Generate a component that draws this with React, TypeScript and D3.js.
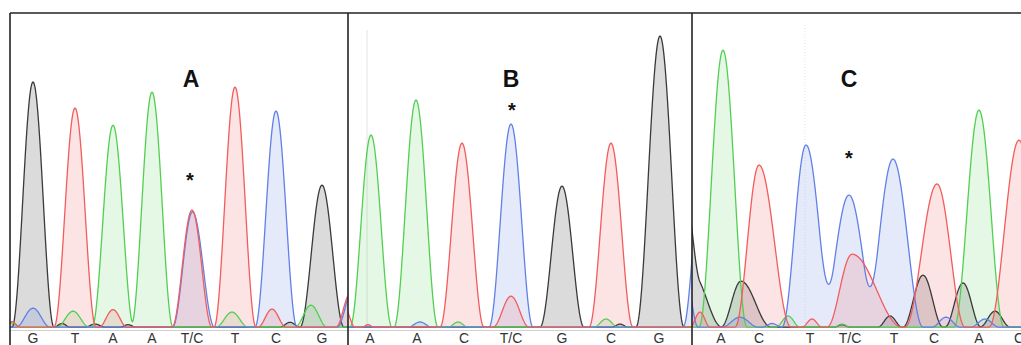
import React, { useEffect, useRef } from "react";
import * as d3 from "d3";

// ---- data: peaks per panel / channel, [scan, height (RFU), half-width left, half-width right] ----
const peaksA_G = [[23, 817, 21, 21], [312, 473, 22, 22], [52, 12, 8, 8], [85, 10, 10, 10], [118, 8, 8, 8], [280, 16, 10, 10]];
const peaksA_T = [[65, 730, 21, 21], [182, 390, 20, 20], [225, 800, 21, 21], [103, 58, 14, 14], [262, 60, 14, 14], [340, 110, 14, 14], [2, 18, 8, 8]];
const peaksA_A = [[103, 673, 21, 21], [142, 783, 21, 21], [63, 53, 16, 16], [222, 50, 16, 16], [301, 73, 16, 16], [2, 14, 8, 8]];
const peaksA_C = [[266, 720, 21, 21], [182.5, 384, 20, 22], [23, 63, 17, 17], [345, 150, 18, 18]];

const peaksB_G = [[214, 470, 22, 22], [312, 970, 24, 24], [272, 10, 8, 8]];
const peaksB_T = [[114, 613, 22, 22], [163, 103, 18, 18], [263, 613, 22, 22], [-3, 60, 10, 10], [20, 8, 6, 6]];
const peaksB_A = [[23, 640, 21, 21], [68, 757, 22, 22], [110, 17, 10, 10], [258, 27, 12, 12]];
const peaksB_C = [[163, 677, 22, 22], [72, 17, 12, 12], [357, 640, 22, 22]];

const peaksC_G = [[-10, 350, 18, 18], [0, 180, 30, 30], [49, 153, 20, 30], [198, 37, 12, 12], [231, 173, 20, 20], [271, 147, 18, 18], [303, 53, 15, 15], [150, 8, 8, 8]];
const peaksC_T = [[67, 540, 24, 32], [160, 243, 25, 50], [245, 477, 32, 28], [327, 623, 30, 30], [8, 50, 10, 10], [120, 27, 10, 10]];
const peaksC_A = [[31, 923, 24, 24], [287, 723, 25, 25], [96, 37, 12, 12], [150, 10, 8, 8]];
const peaksC_C = [[114, 607, 24, 28], [157, 440, 29, 29], [201, 560, 29, 30], [48, 33, 18, 18], [80, 12, 10, 10], [254, 33, 14, 14], [293, 27, 14, 14], [-6, 160, 12, 12]];

// base calls
const basesA = ["G", "T", "A", "A", "T/C", "T", "C", "G"];
const basePosA = [23, 65, 103, 142, 182, 225, 266, 312];
const basesB = ["A", "A", "C", "T/C", "G", "C", "G"];
const basePosB = [22, 69, 116, 163, 214, 263, 311];
const basesC = ["A", "C", "T", "T/C", "T", "C", "A", "C"];
const basePosC = [29, 67, 118, 158, 202, 242, 287, 327];

// panel title + asterisk: [scan, RFU]
const titleA = [181, 803], starA = [180, 510];
const titleB = [163, 803], starB = [164, 743];
const titleC = [157, 803], starC = [157, 583];
// faint guide lines (scan)
const guideB = [19];
const guideC = [113];

const channels = [
  { key: "G", line: "#3a3a3a", fill: "rgba(0,0,0,0.14)" },
  { key: "A", line: "#52cf52", fill: "rgba(80,200,80,0.15)" },
  { key: "C", line: "#6080e6", fill: "rgba(95,125,230,0.16)" },
  { key: "T", line: "#f25c5c", fill: "rgba(240,90,90,0.16)" },
];

const panels = [
  { name: "A", x0: 10, x1: 348, peaks: { G: peaksA_G, T: peaksA_T, A: peaksA_A, C: peaksA_C }, bases: basesA, pos: basePosA, title: titleA, star: starA, guide: [] as number[], dash: null as string | null },
  { name: "B", x0: 348, x1: 692, peaks: { G: peaksB_G, T: peaksB_T, A: peaksB_A, C: peaksB_C }, bases: basesB, pos: basePosB, title: titleB, star: starB, guide: guideB, dash: null },
  { name: "C", x0: 692, x1: 1021, peaks: { G: peaksC_G, T: peaksC_T, A: peaksC_A, C: peaksC_C }, bases: basesC, pos: basePosC, title: titleC, star: starC, guide: guideC, dash: "1,2" },
];

const signal = (peaks: number[][], s: number) => {
  let v = 3;
  peaks.forEach(([p, h, wl, wr]) => {
    const d = s - p;
    const w = d < 0 ? wl : wr;
    if (Math.abs(d) < w) v += h * Math.cos((Math.PI * d) / (2 * w)) ** 2;
  });
  return v;
};

export default function App() {
  const ref = useRef<SVGSVGElement>(null);

  useEffect(() => {
    document.body.style.margin = "0";
    const svg = d3.select(ref.current);
    svg.selectAll("*").remove();

    const width = 1021, height = 345;
    const top = 13, base = 328;
    const font = "'Liberation Sans', Arial, sans-serif";

    const y = d3.scaleLinear().domain([0, 1000]).range([base, base - 300]);

    // label separator line
    svg.append("line")
      .attr("x1", 10).attr("x2", width)
      .attr("y1", 330.5).attr("y2", 330.5)
      .attr("stroke", "#d0d0d0").attr("stroke-width", 1);

    panels.forEach((pn, i) => {
      const x = d3.scaleLinear().domain([0, pn.x1 - pn.x0]).range([pn.x0, pn.x1]);
      const clipId = `clip-${pn.name}`;
      svg.append("clipPath").attr("id", clipId)
        .append("rect")
        .attr("x", pn.x0).attr("y", top)
        .attr("width", pn.x1 - pn.x0).attr("height", base - top + 1);

      const g = svg.append("g").attr("clip-path", `url(#${clipId})`);

      pn.guide.forEach((s) => {
        g.append("line")
          .attr("x1", x(s)).attr("x2", x(s))
          .attr("y1", i === 1 ? 30 : 25).attr("y2", base)
          .attr("stroke", "#e2e2e2").attr("stroke-width", 1)
          .attr("stroke-dasharray", pn.dash);
      });

      const scans = d3.range(-5, pn.x1 - pn.x0 + 5, 0.5);
      const series = channels.map((c) => ({
        ...c,
        pts: scans.map((s) => [s, signal((pn.peaks as any)[c.key], s)]),
      }));

      const area = d3.area<number[]>().x((d) => x(d[0])).y0(y(0)).y1((d) => y(d[1]));
      const line = d3.line<number[]>().x((d) => x(d[0])).y((d) => y(d[1]));

      series.forEach((s) => {
        g.append("path").attr("d", area(s.pts)).attr("fill", s.fill);
      });
      series.forEach((s) => {
        g.append("path").attr("d", line(s.pts))
          .attr("fill", "none").attr("stroke", s.line)
          .attr("stroke-width", 1.3).attr("stroke-linejoin", "round");
      });

      // base labels
      svg.append("g").selectAll("text").data(pn.bases).join("text")
        .attr("x", (d, j) => x(pn.pos[j]))
        .attr("y", 343)
        .attr("text-anchor", "middle")
        .style("font-family", font)
        .style("font-size", "14px")
        .attr("fill", "#333")
        .text((d) => d);

      svg.append("text")
        .attr("x", x(pn.title[0])).attr("y", y(pn.title[1]))
        .attr("text-anchor", "middle")
        .style("font-family", font).style("font-weight", "bold")
        .style("font-size", "23px").attr("fill", "#111")
        .text(pn.name);

      svg.append("text")
        .attr("x", x(pn.star[0])).attr("y", y(pn.star[1]) + 11.5)
        .attr("text-anchor", "middle")
        .style("font-family", font).style("font-weight", "bold")
        .style("font-size", "20px").attr("fill", "#111")
        .text("*");
    });

    // frame
    const frame = svg.append("g").attr("stroke", "#222").attr("stroke-width", 1.6).attr("fill", "none");
    frame.append("line").attr("x1", 10).attr("x2", width).attr("y1", top).attr("y2", top);
    [10, 348, 692].forEach((fx) => {
      frame.append("line").attr("x1", fx).attr("x2", fx).attr("y1", top).attr("y2", height);
    });
  }, []);

  return (
    <svg ref={ref} width={1021} height={345}
      style={{ display: "block", position: "absolute", left: 0, top: 0, background: "#fff" }} />
  );
}
